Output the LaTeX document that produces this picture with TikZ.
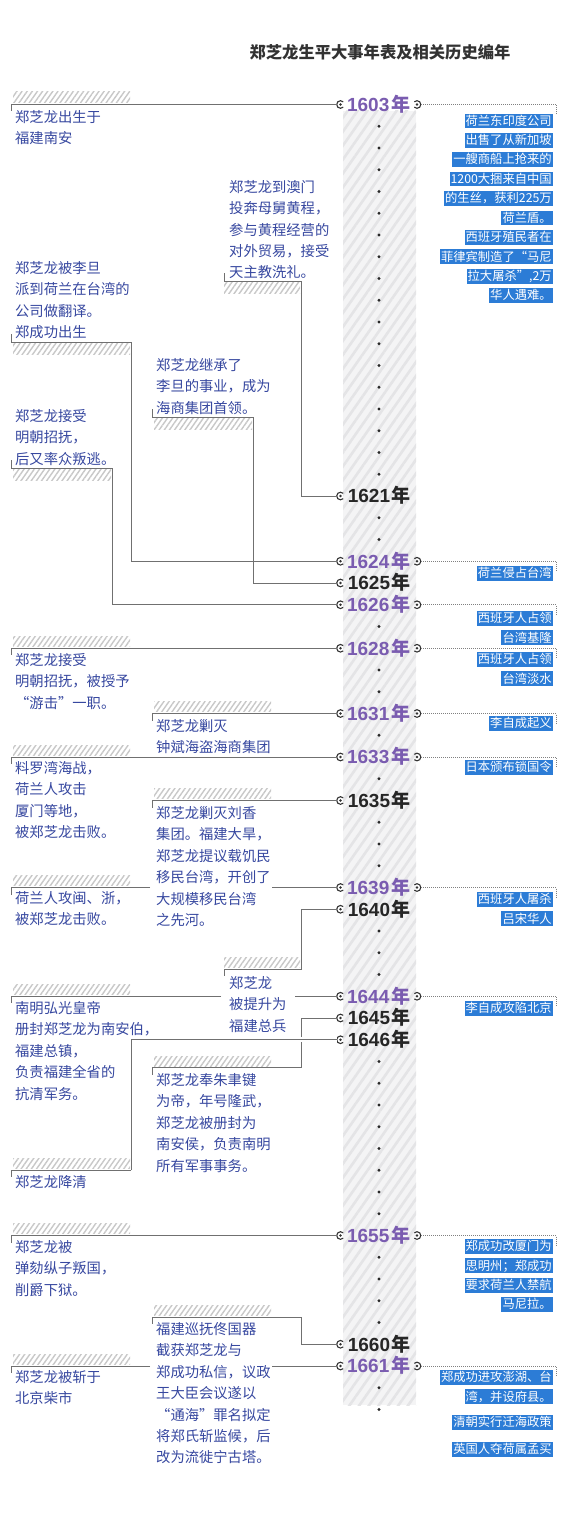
\documentclass[tikz,border=0pt]{standalone}
\usepackage{fontspec}
\setmainfont{Noto Sans CJK SC}
\newfontfamily\digfont{Liberation Sans}
\usetikzlibrary{patterns.meta}
\definecolor{lblue}{RGB}{55,72,160}
\definecolor{ypur}{RGB}{122,92,176}
\definecolor{yblk}{RGB}{38,38,38}
\definecolor{nblue}{RGB}{44,124,214}
\definecolor{linec}{RGB}{112,112,112}
\definecolor{hatchc}{RGB}{200,200,200}
\definecolor{bandbg}{RGB}{244,244,245}
\definecolor{bandst}{RGB}{228,228,230}
\definecolor{dotc}{RGB}{40,40,40}
\definecolor{mkc}{RGB}{50,50,50}
\definecolor{titlec}{RGB}{50,50,50}
\setlength{\fboxsep}{1.1pt}
\newcommand\hlbox[1]{\colorbox{nblue}{\rule[-0.16em]{0pt}{1.02em}#1}}
\newcommand\yrB[2]{%
  \coordinate (L#1) at (336.5,#2);
  \node[yrb] (Y#1) at (379,#2+6.8) {{\digfont #1}\hspace{1pt}年};
  \draw[mk] (340.5,#2) ++(45:3.8) arc[start angle=45,end angle=315,radius=3.8];
  \fill[mkc] (340.5,#2) circle (1.3);
}
\newcommand\yrP[2]{%
  \coordinate (L#1) at (336.5,#2);
  \coordinate (R#1) at (421,#2);
  \coordinate (E#1) at (556,#2);
  \node[yrp] (Y#1) at (379,#2+6.8) {{\digfont #1}\hspace{2.5pt}年};
  \draw[mk] (340.5,#2) ++(45:3.8) arc[start angle=45,end angle=315,radius=3.8];
  \fill[mkc] (340.5,#2) circle (1.3);
  \draw[mk] (417,#2) ++(135:3.8) arc[start angle=135,end angle=-135,radius=3.8];
  \fill[mkc] (417,#2) circle (1.3);
  \draw[dotl] (R#1) -- (E#1) -- ++(0,10);
}
\begin{document}
\begin{tikzpicture}[x=1pt,y=-1pt,
  conn/.style={draw=linec,line width=0.9pt},
  hatch/.style={pattern={Lines[angle=55,distance=4.2pt,line width=1.4pt]},pattern color=hatchc},
  band/.style={fill=bandbg,postaction={pattern={Lines[angle=55,distance=8pt,line width=2.6pt]},pattern color=bandst}},
  lt/.style={anchor=base west,inner sep=0pt,text width=200pt,align=left,text=lblue,font=\fontsize{14.3}{21.4}\selectfont},
  nt/.style={anchor=base east,inner sep=0pt,text width=150pt,align=right,text=white,font=\fontsize{12.3}{19.4}\selectfont},
  yrp/.style={anchor=base,inner sep=0pt,text=ypur,font=\fontsize{19}{19}\selectfont\bfseries},
  yrb/.style={anchor=base,inner sep=0pt,text=yblk,font=\fontsize{19}{19}\selectfont\bfseries},
  mk/.style={draw=mkc,line width=1.1pt},
  dotl/.style={draw=gray,line width=0.7pt,dash pattern=on 0.7pt off 1.3pt},
  ttl/.style={anchor=base,inner sep=0pt,text=titlec,font=\fontsize{16.3}{16.3}\selectfont\bfseries}]
\useasboundingbox (0,0) rectangle (567,1514);
\fill[white] (0,0) rectangle (567,1514);

\node[ttl] (title) at (380,58.2) {郑芝龙生平大事年表及相关历史编年};

% central band and dots
\path[band] (343,111) rectangle (416,1405);
\foreach \i in {1,2,3,4,5,6,7,8,9,10,11,12,13,14,15,16,17,19,20,24,26,27,29,31,33,34,35,38,39,40,44,45,46,47,48,49,50,51,53,54,55,56,59,60}
  \fill[dotc] (379,104.5+21.75*\i) circle (1.6);

% years
\yrP{1603}{104.5}
\yrB{1621}{496}
\yrP{1624}{561.25}
\yrB{1625}{583}
\yrP{1626}{604.75}
\yrP{1628}{648.25}
\yrP{1631}{713.5}
\yrP{1633}{757}
\yrB{1635}{800.5}
\yrP{1639}{887.5}
\yrB{1640}{909.25}
\yrP{1644}{996.25}
\yrB{1645}{1018}
\yrB{1646}{1039.75}
\yrP{1655}{1235.5}
\yrB{1660}{1344.25}
\yrP{1661}{1366}

% ---- left labels ----
% 1603
\coordinate (tA) at (11,104.5);
\draw[conn] (L1603) -- (tA) -- ++(0,7);
\path[hatch] (13,92) rectangle (130,102.5);
\node[lt] (bA) at (15,122.4) {郑芝龙出生于\\福建南安};

% 1621
\coordinate (tB) at (224,281);
\coordinate (cB) at (301,281);
\draw[conn] (L1621) -| (cB) -- (tB) -- ++(0,-8);
\path[hatch] (224,282.5) rectangle (300,293);
\node[lt] (bB) at (229,192.4) {郑芝龙到澳门\\投奔母舅黄程，\\参与黄程经营的\\对外贸易，接受\\天主教洗礼。};

% 1624
\coordinate (tC) at (11,342);
\coordinate (cC) at (131,342);
\draw[conn] (L1624) -| (cC) -- (tC) -- ++(0,-8);
\path[hatch] (13,343.5) rectangle (130,354);
\node[lt] (bC) at (15,273.4) {郑芝龙被李旦\\派到荷兰在台湾的\\公司做翻译。\\郑成功出生};

% 1625
\coordinate (tD) at (152,417);
\coordinate (cD) at (253,417);
\draw[conn] (L1625) -| (cD) -- (tD) -- ++(0,-8);
\path[hatch] (154,418.5) rectangle (252,429);
\node[lt] (bD) at (156,370.4) {郑芝龙继承了\\李旦的事业，成为\\海商集团首领。};

% 1626
\coordinate (tE) at (11,468);
\coordinate (cE) at (112,468);
\draw[conn] (L1626) -| (cE) -- (tE) -- ++(0,-8);
\path[hatch] (13,469.5) rectangle (111,480);
\node[lt] (bE) at (15,421.4) {郑芝龙接受\\明朝招抚，\\后又率众叛逃。};

% 1628
\coordinate (tF) at (11,648.25);
\draw[conn] (L1628) -- (tF) -- ++(0,7);
\path[hatch] (13,636.25) rectangle (130,646.25);
\node[lt] (bF) at (15,665.4) {郑芝龙接受\\明朝招抚，被授予\\“游击”一职。};

% 1631
\coordinate (tG) at (152,713.5);
\draw[conn] (L1631) -- (tG) -- ++(0,7);
\path[hatch] (154,701.5) rectangle (271,711.5);
\node[lt] (bG) at (156,731.4) {郑芝龙剿灭\\钟斌海盗海商集团};

% 1633
\coordinate (tH) at (11,757);
\draw[conn] (L1633) -- (tH) -- ++(0,7);
\path[hatch] (13,745) rectangle (130,755);
\node[lt] (bH) at (15,773.4) {料罗湾海战，\\荷兰人攻击\\厦门等地，\\被郑芝龙击败。};

% 1635
\coordinate (tI) at (152,800.5);
\draw[conn] (L1635) -- (tI) -- ++(0,7);
\path[hatch] (154,788.5) rectangle (271,798.5);
\node[lt] (bI) at (156,818.4) {郑芝龙剿灭刘香\\集团。福建大旱，\\郑芝龙提议载饥民\\移民台湾，开创了\\大规模移民台湾\\之先河。};

% 1639
\coordinate (tJ) at (11,887.5);
\coordinate (gJa) at (150,887.5);
\coordinate (gJb) at (272,887.5);
\draw[conn] (L1639) -- (gJb);
\draw[conn] (gJa) -- (tJ) -- ++(0,7);
\path[hatch] (13,875.5) rectangle (130,885.5);
\node[lt] (bJ) at (15,903.4) {荷兰人攻闽、浙，\\被郑芝龙击败。};

% 1640
\coordinate (cK) at (301,969);
\coordinate (tK) at (224,969);
\draw[conn] (L1640) -| (cK) -- (tK) -- ++(0,7);
\path[hatch] (224,957) rectangle (300,967);
\node[lt] (bK) at (229,988.4) {郑芝龙\\被提升为\\福建总兵};

% 1644
\coordinate (tL) at (11,996.25);
\coordinate (gLa) at (221,996.25);
\coordinate (gLb) at (295,996.25);
\draw[conn] (L1644) -- (gLb);
\draw[conn] (gLa) -- (tL) -- ++(0,7);
\path[hatch] (13,984.25) rectangle (130,994.25);
\node[lt] (bL) at (15,1013.4) {南明弘光皇帝\\册封郑芝龙为南安伯，\\福建总镇，\\负责福建全省的\\抗清军务。};

% 1645
\coordinate (cM) at (301,1067.5);
\coordinate (tM) at (152,1067.5);
\draw[conn] (L1645) -| (cM) -- (tM) -- ++(0,7);
\path[hatch] (154,1056) rectangle (271,1066);
\node[lt] (bM) at (156,1085.4) {郑芝龙奉朱聿键\\为帝，年号隆武，\\郑芝龙被册封为\\南安侯，负责南明\\所有军事事务。};

% 1646
\coordinate (cN) at (131,1170);
\coordinate (tN) at (11,1170);
\draw[conn,preaction={draw=white,line width=5pt}] (L1646) -| (cN);
\draw[conn] (cN) -- (tN) -- ++(0,7);
\path[hatch] (13,1158) rectangle (130,1168);
\node[lt] (bN) at (15,1187.4) {郑芝龙降清};

% 1655
\coordinate (tO) at (11,1235.5);
\draw[conn] (L1655) -- (tO) -- ++(0,7);
\path[hatch] (13,1223.5) rectangle (130,1233.5);
\node[lt] (bO) at (15,1252.4) {郑芝龙被\\弹劾纵子叛国，\\削爵下狱。};

% 1660
\coordinate (cP) at (301,1317);
\coordinate (tP) at (152,1317);
\draw[conn] (L1660) -| (cP) -- (tP) -- ++(0,7);
\path[hatch] (154,1305) rectangle (271,1315);
\node[lt] (bP) at (156,1334.4) {福建巡抚佟国器\\截获郑芝龙与\\郑成功私信，议政\\王大臣会议遂以\\“通海”罪名拟定\\将郑氏斩监候，后\\改为流徙宁古塔。};

% 1661
\coordinate (tQ) at (11,1366);
\coordinate (gQa) at (150,1366);
\coordinate (gQb) at (272,1366);
\draw[conn] (L1661) -- (gQb);
\draw[conn] (gQa) -- (tQ) -- ++(0,7);
\path[hatch] (13,1354) rectangle (130,1364);
\node[lt] (bQ) at (15,1382.4) {郑芝龙被斩于\\北京柴市};

% ---- right notes ----
\node[nt] (n1603a) at (553,125.2) {\hlbox{荷兰东印度公司}\\\hlbox{出售了从新加坡}\\\hlbox{一艘商船上抢来的}\\\hlbox{1200大捆来自中国}\\\hlbox{的生丝，获利225万}\\\hlbox{荷兰盾。}};
\node[nt] (n1603b) at (553,241.7) {\hlbox{西班牙殖民者在}\\\hlbox{菲律宾制造了“马尼}\\\hlbox{拉大屠杀”,2万}\\\hlbox{华人遇难。}};
\node[nt] (n1624) at (553,577.7) {\hlbox{荷兰侵占台湾}};
\node[nt] (n1626) at (553,622.7) {\hlbox{西班牙人占领}\\\hlbox{台湾基隆}};
\node[nt] (n1628) at (553,663.7) {\hlbox{西班牙人占领}\\\hlbox{台湾淡水}};
\node[nt] (n1631) at (553,727.7) {\hlbox{李自成起义}};
\node[nt] (n1633) at (553,771.7) {\hlbox{日本颁布锁国令}};
\node[nt] (n1639) at (553,903.7) {\hlbox{西班牙人屠杀}\\\hlbox{吕宋华人}};
\node[nt] (n1644) at (553,1012.7) {\hlbox{李自成攻陷北京}};
\node[nt] (n1655) at (553,1250.7) {\hlbox{郑成功改厦门为}\\\hlbox{思明州；郑成功}\\\hlbox{要求荷兰人禁航}\\\hlbox{马尼拉。}};
\node[nt] (n1661a) at (553,1381.7) {\hlbox{郑成功进攻澎湖、台}\\\hlbox{湾，并设府县。}};
\node[nt] (n1661b) at (553,1426.7) {\hlbox{清朝实行迁海政策}};
\node[nt] (n1661c) at (553,1453.7) {\hlbox{英国人夺荷属孟买}};
\end{tikzpicture}
\end{document}
